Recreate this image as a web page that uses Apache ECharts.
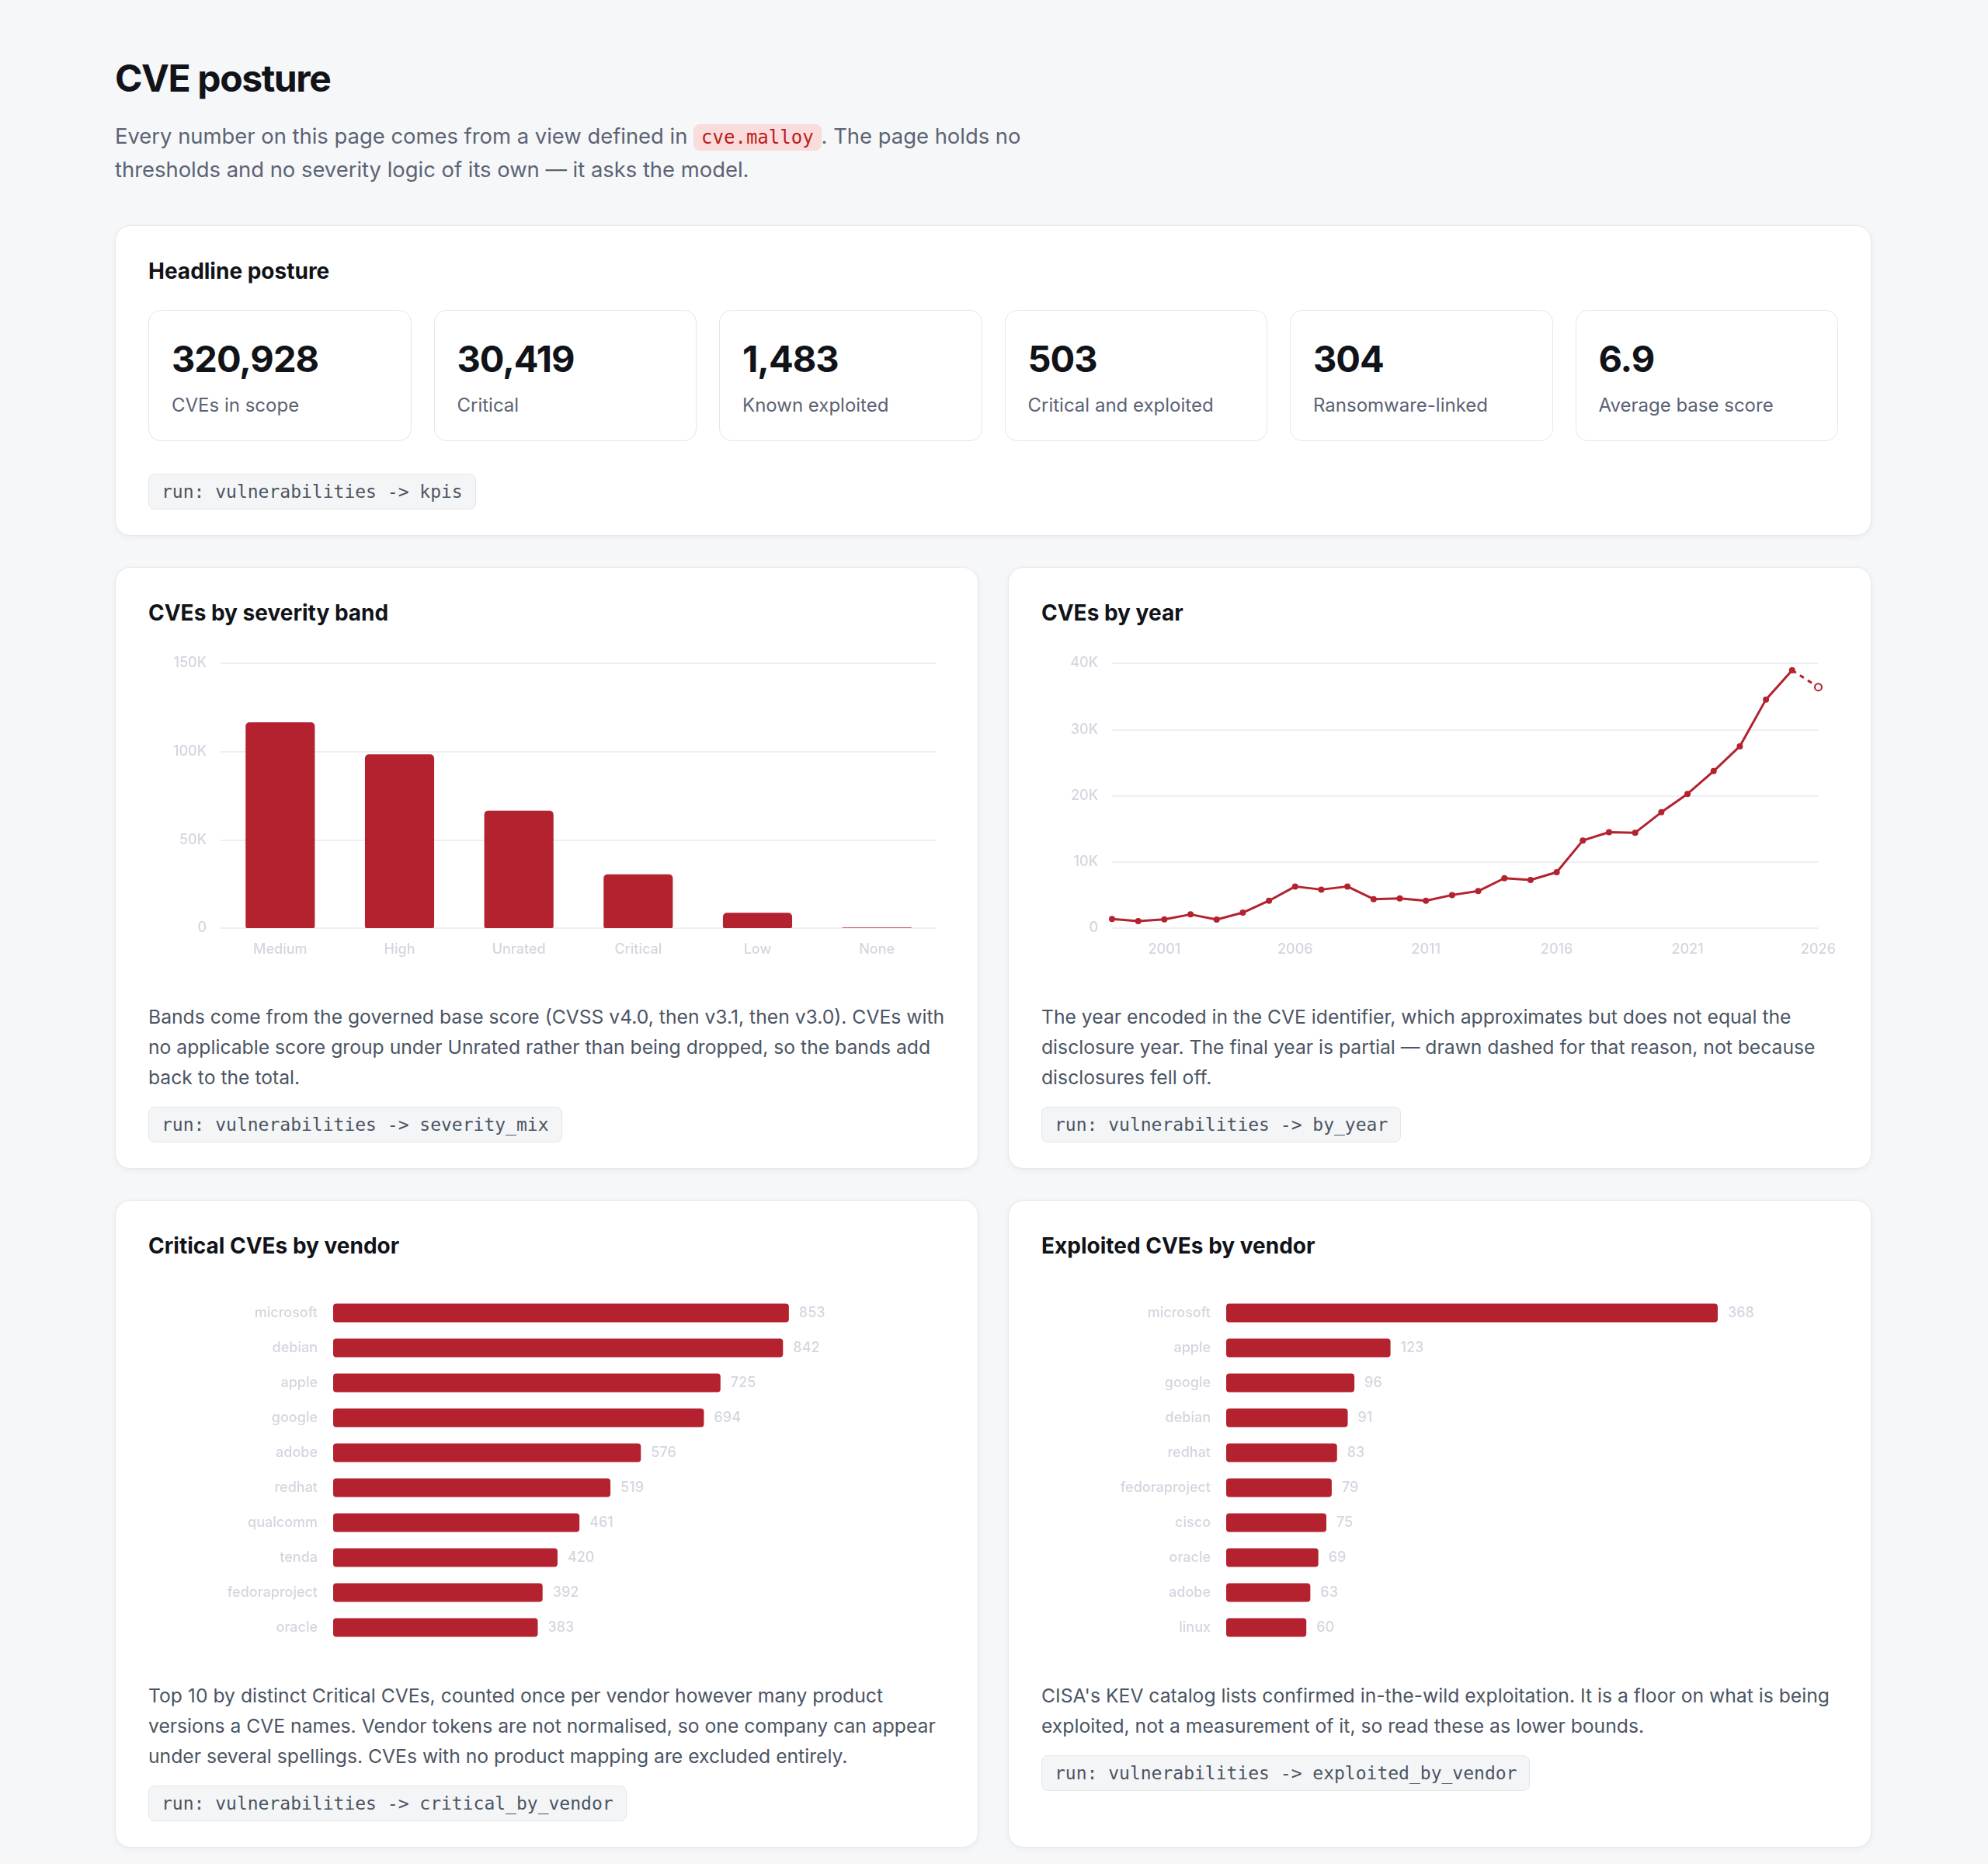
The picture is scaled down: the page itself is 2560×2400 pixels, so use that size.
<!DOCTYPE html>
<html>
<head>
<meta charset="utf-8">
<script src="https://cdn.jsdelivr.net/npm/echarts@6/dist/echarts.min.js"></script>
<style>
  html, body { margin: 0; padding: 0; background: #f6f7f9; }
  body { width: 2560px; height: 2400px; font-family: Inter, "Noto Sans", sans-serif; color: #111827; }
  .page { position: absolute; left: 148px; top: 71px; width: 2262px; }
  h1 { margin: 0; font-size: 48px; line-height: 60px; font-weight: 700; letter-spacing: -1.4px; color: #111318; }
  .sub { margin: 24px 0 0; font-size: 27.4px; line-height: 41px; color: #5b6373; white-space: nowrap; }
  .sub code { font-family: "DejaVu Sans Mono", monospace; font-size: 24px; color: #b91c1c; background: #fadcdc; border-radius: 8px; padding: 3px 10px; }
  .card { background: #fff; border: 1.5px solid #e6e8ec; border-radius: 20px; box-sizing: border-box; padding: 41px 42px 33px; box-shadow: 0 2px 8px rgba(17,24,39,0.05); }
  .card h2 { margin: 0; font-size: 28px; line-height: 34px; font-weight: 700; color: #111318; }
  .headline { margin-top: 51px; height: 400px; }
  .tiles { display: flex; gap: 29px; margin-top: 33px; }
  .tile { flex: 1; height: 169px; box-sizing: border-box; border: 1.5px solid #e3e6eb; border-radius: 16px; padding: 32px 29px 0; }
  .tile .num { font-size: 47px; line-height: 59px; font-weight: 700; color: #111318; letter-spacing: -1px; }
  .tile .lbl { margin-top: 14px; font-size: 24px; line-height: 34px; color: #5b6373; }
  .pill { display: inline-block; font-family: "DejaVu Sans Mono", monospace; font-size: 23px; line-height: 32px; color: #4b5563; background: #f4f5f7; border: 1.5px solid #e3e6eb; border-radius: 8px; padding: 6px 16px; }
  .headline .pill { margin-top: 42px; }
  .row { display: grid; grid-template-columns: 1112px 1112px; column-gap: 38px; margin-top: 40px; }
  .row2 .card { height: 775px; }
  .row3 .card { height: 834px; }
  .chart { width: 1026px; }
  .row2 .chart { height: 470px; }
  .row3 .chart { height: 529px; }
  .para { margin-top: 14px; font-size: 24.7px; line-height: 39px; color: #4b5563; white-space: nowrap; }
  .card .pillwrap { margin-top: 18px; }
</style>
</head>
<body>
<div class="page">
  <h1>CVE posture</h1>
  <div class="sub">Every number on this page comes from a view defined in <code>cve.malloy</code>. The page holds no<br>thresholds and no severity logic of its own — it asks the model.</div>

  <div class="card headline">
    <h2>Headline posture</h2>
    <div class="tiles" id="tiles"></div>
    <div class="pill">run: vulnerabilities -&gt; kpis</div>
  </div>

  <div class="row row2">
    <div class="card">
      <h2>CVEs by severity band</h2>
      <div class="chart" id="sev"></div>
      <div class="para">Bands come from the governed base score (CVSS v4.0, then v3.1, then v3.0). CVEs with<br>no applicable score group under Unrated rather than being dropped, so the bands add<br>back to the total.</div>
      <div class="pillwrap"><span class="pill">run: vulnerabilities -&gt; severity_mix</span></div>
    </div>
    <div class="card">
      <h2>CVEs by year</h2>
      <div class="chart" id="year"></div>
      <div class="para">The year encoded in the CVE identifier, which approximates but does not equal the<br>disclosure year. The final year is partial — drawn dashed for that reason, not because<br>disclosures fell off.</div>
      <div class="pillwrap"><span class="pill">run: vulnerabilities -&gt; by_year</span></div>
    </div>
  </div>

  <div class="row row3">
    <div class="card">
      <h2>Critical CVEs by vendor</h2>
      <div class="chart" id="crit"></div>
      <div class="para">Top 10 by distinct Critical CVEs, counted once per vendor however many product<br>versions a CVE names. Vendor tokens are not normalised, so one company can appear<br>under several spellings. CVEs with no product mapping are excluded entirely.</div>
      <div class="pillwrap"><span class="pill">run: vulnerabilities -&gt; critical_by_vendor</span></div>
    </div>
    <div class="card">
      <h2>Exploited CVEs by vendor</h2>
      <div class="chart" id="expl"></div>
      <div class="para">CISA's KEV catalog lists confirmed in-the-wild exploitation. It is a floor on what is being<br>exploited, not a measurement of it, so read these as lower bounds.</div>
      <div class="pillwrap"><span class="pill">run: vulnerabilities -&gt; exploited_by_vendor</span></div>
    </div>
  </div>
</div>

<script>
// ---- Data ----
const kpiValues = ['320,928', '30,419', '1,483', '503', '304', '6.9'];
const kpiLabels = ['CVEs in scope', 'Critical', 'Known exploited', 'Critical and exploited', 'Ransomware-linked', 'Average base score'];

const severityBands = ['Medium', 'High', 'Unrated', 'Critical', 'Low', 'None'];
const severityCounts = [116600, 98400, 66500, 30419, 8700, 309];
const severityMax = 150000;
const severityInterval = 50000;

const years = ['1999','2000','2001','2002','2003','2004','2005','2006','2007','2008','2009','2010','2011','2012',
               '2013','2014','2015','2016','2017','2018','2019','2020','2021','2022','2023','2024','2025','2026'];
const yearCounts = [1370, 1050, 1330, 2070, 1290, 2340, 4140, 6290, 5820, 6290, 4380, 4490, 4140, 5000,
                    5590, 7540, 7270, 8440, 13240, 14490, 14410, 17500, 20270, 23710, 27460, 34530, 38950, 36400];
const yearMax = 40000;
const yearInterval = 10000;
const yearLabelStart = 2001;
const yearLabelStep = 5;

const critVendors = ['microsoft','debian','apple','google','adobe','redhat','qualcomm','tenda','fedoraproject','oracle'];
const critCounts = [853, 842, 725, 694, 576, 519, 461, 420, 392, 383];
const critMax = 1000;

const explVendors = ['microsoft','apple','google','debian','redhat','fedoraproject','cisco','oracle','adobe','linux'];
const explCounts = [368, 123, 96, 91, 83, 79, 75, 69, 63, 60];
const explMax = 400;

// ---- KPI tiles ----
const tilesEl = document.getElementById('tiles');
kpiValues.forEach((v, i) => {
  const t = document.createElement('div');
  t.className = 'tile';
  t.innerHTML = '<div class="num">' + v + '</div><div class="lbl">' + kpiLabels[i] + '</div>';
  tilesEl.appendChild(t);
});

// ---- Styles ----
const RED = '#b3222e';
const AXIS_TXT = '#d3d6df';
const GRID = '#e8eaee';
const FONT = 'Inter';
const kfmt = v => v === 0 ? '0' : (v / 1000) + 'K';
const axisLbl = { color: AXIS_TXT, fontFamily: FONT, fontSize: 18, fontWeight: 500 };

// ---- Severity chart ----
echarts.init(document.getElementById('sev')).setOption({
  animation: false,
  grid: { left: 93, right: 11, top: 48, bottom: 81 },
  xAxis: {
    type: 'category', data: severityBands,
    axisLine: { show: false }, axisTick: { show: false },
    axisLabel: Object.assign({ margin: 19 }, axisLbl)
  },
  yAxis: {
    type: 'value', min: 0, max: severityMax, interval: severityInterval,
    axisLine: { show: false }, axisTick: { show: false },
    axisLabel: Object.assign({ margin: 18, formatter: kfmt }, axisLbl),
    splitLine: { lineStyle: { color: GRID, width: 1.5 } }
  },
  series: [{
    type: 'bar', data: severityCounts, barWidth: '58%',
    itemStyle: { color: RED, borderRadius: [5, 5, 2, 2] }
  }]
});

// ---- Year chart ----
const lastIdx = years.length - 1;
const solidData = yearCounts.map((v, i) => i < lastIdx ? v : null);
const dashedData = yearCounts.map((v, i) => {
  if (i === lastIdx - 1) return { value: v, symbol: 'none' };
  if (i === lastIdx) return { value: v };
  return null;
});
echarts.init(document.getElementById('year')).setOption({
  animation: false,
  grid: { left: 91, right: 19, top: 48, bottom: 81 },
  xAxis: {
    type: 'category', data: years, boundaryGap: false,
    axisLine: { show: false }, axisTick: { show: false },
    axisLabel: Object.assign({
      margin: 19,
      interval: (idx, val) => (Number(val) - yearLabelStart) % yearLabelStep === 0
    }, axisLbl)
  },
  yAxis: {
    type: 'value', min: 0, max: yearMax, interval: yearInterval,
    axisLine: { show: false }, axisTick: { show: false },
    axisLabel: Object.assign({ margin: 18, formatter: kfmt }, axisLbl),
    splitLine: { lineStyle: { color: GRID, width: 1.5 } }
  },
  series: [
    {
      type: 'line', data: solidData, symbol: 'circle', symbolSize: 8,
      lineStyle: { color: RED, width: 3 }, itemStyle: { color: RED }
    },
    {
      type: 'line', data: dashedData, symbol: 'emptyCircle', symbolSize: 9,
      lineStyle: { color: RED, width: 3, type: [6, 6] },
      itemStyle: { color: RED, borderColor: RED, borderWidth: 3 }
    }
  ]
});

// ---- Horizontal vendor charts ----
function hbar(id, cats, vals, max) {
  echarts.init(document.getElementById(id)).setOption({
    animation: false,
    grid: { left: 238, right: 100, top: 47, bottom: 32 },
    xAxis: { type: 'value', min: 0, max: max, show: false, splitLine: { show: false } },
    yAxis: {
      type: 'category', data: cats, inverse: true,
      axisLine: { show: false }, axisTick: { show: false },
      axisLabel: Object.assign({ margin: 20 }, axisLbl)
    },
    series: [{
      type: 'bar', data: vals, barWidth: 24,
      itemStyle: { color: RED, borderRadius: 4 },
      label: Object.assign({ show: true, position: 'right', distance: 13 }, axisLbl)
    }]
  });
}
hbar('crit', critVendors, critCounts, critMax);
hbar('expl', explVendors, explCounts, explMax);
</script>
</body>
</html>
